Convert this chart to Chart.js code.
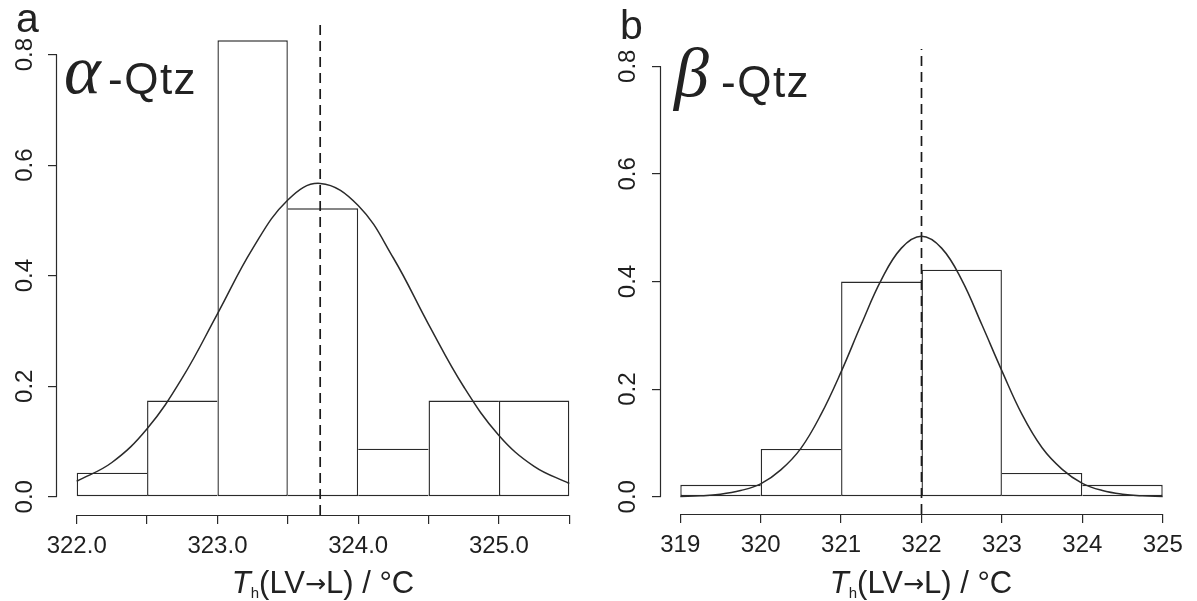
<!DOCTYPE html>
<html>
<head>
<meta charset="utf-8">
<script src="https://cdn.jsdelivr.net/npm/chart.js@4.4.1/dist/chart.umd.min.js"></script>
<style>
body { margin: 0; background: #fff; }
#wrap { position: relative; width: 1197px; height: 601px; overflow: hidden; font-family: "Liberation Sans", Arial, sans-serif; color: #222; }
canvas { position: absolute; top: 0; }
.t { position: absolute; line-height: 1; white-space: nowrap; }
.greek { font-family: "Liberation Serif", "DejaVu Serif", serif; font-style: italic; font-size: 70px; }
.qtz { font-size: 44px; letter-spacing: 1.5px; }
.panel { font-size: 41px; }
.xtitle { font-size: 31px; line-height: 31px; width: 400px; text-align: center; }
.xtitle i { font-style: italic; }
.xtitle .sub { font-size: 15px; position: relative; top: 5px; }
.xtitle .arr { font-family: "DejaVu Sans", sans-serif; font-size: 25px; position: relative; top: -1px; }
</style>
</head>
<body>
<div id="wrap">
  <canvas id="chartA" width="598" height="601" style="left:0"></canvas>
  <canvas id="chartB" width="599" height="601" style="left:598px"></canvas>

  <div class="t panel" style="left:16px; top:-2px">a</div>
  <div class="t panel" style="left:620px; top:5px">b</div>
  <div class="t greek" style="left:64px; top:35px">α</div>
  <div class="t qtz" style="left:108px; top:57px">-Qtz</div>
  <div class="t greek" style="left:674px; top:38px">β</div>
  <div class="t qtz" style="left:721px; top:60px">-Qtz</div>
  <div class="t xtitle" style="left:123px; top:567px"><i>T</i><span class="sub">h</span>(LV<span class="arr">→</span>L) / °C</div>
  <div class="t xtitle" style="left:721px; top:567px"><i>T</i><span class="sub">h</span>(LV<span class="arr">→</span>L) / °C</div>
</div>
<script>
// panel a (alpha-Qtz): histogram densities, bin width 0.5
const binsA = [322.25, 322.75, 323.25, 323.75, 324.25, 324.75, 325.25]
const densA = [0.0435, 0.174, 0.826, 0.522, 0.087, 0.174, 0.174]
const curveXA = [322.0, 322.25, 322.5, 322.75, 323.0, 323.25, 323.5, 323.73, 324.0, 324.25, 324.5, 324.75, 325.0, 325.25, 325.5]
const curveYA = [0.028, 0.062, 0.123, 0.215, 0.331, 0.449, 0.537, 0.567, 0.527, 0.432, 0.312, 0.199, 0.111, 0.055, 0.024]
const meanA = 323.73
const xTicksA = [322, 322.5, 323, 323.5, 324, 324.5, 325, 325.5]
const xLabelsA = ["322.0", "", "323.0", "", "324.0", "", "325.0", ""]

// panel b (beta-Qtz): histogram densities, bin width 1
const binsB = [319.5, 320.5, 321.5, 322.5, 323.5, 324.5]
const densB = [0.0222, 0.0889, 0.400, 0.422, 0.0444, 0.0222]
const curveXB = [319, 319.25, 319.5, 319.75, 320, 320.25, 320.5, 320.75, 321, 321.25, 321.5, 321.75, 322,
                 322.25, 322.5, 322.75, 323, 323.25, 323.5, 323.75, 324, 324.25, 324.5, 324.75, 325]
const curveYB = [0.0006, 0.0018, 0.0048, 0.0116, 0.024, 0.050, 0.090, 0.153, 0.232, 0.320, 0.403, 0.462, 0.484,
                 0.462, 0.403, 0.320, 0.234, 0.153, 0.091, 0.051, 0.025, 0.0116, 0.0048, 0.0018, 0.0006]
const meanB = 322.0
const xTicksB = [319, 320, 321, 322, 323, 324, 325]
const xLabelsB = ["319", "320", "321", "322", "323", "324", "325"]

const yTicks = [0, 0.2, 0.4, 0.6, 0.8]
const yLabels = ["0.0", "0.2", "0.4", "0.6", "0.8"]

const ink = "#2a2a2a"
const fontFam = '"Liberation Sans", Arial, sans-serif'

// axis lines only between first and last tick, like R
const axisLines = {
    id: "axisLines",
    afterDraw(chart, args, opts) {
        const ctx = chart.ctx
        const x = chart.scales.x, y = chart.scales.y
        const area = chart.chartArea
        ctx.save()
        ctx.strokeStyle = ink
        ctx.lineWidth = 1.2
        ctx.beginPath()
        const yb = Math.round(area.bottom) + 0.5
        ctx.moveTo(x.getPixelForValue(opts.xFrom), yb)
        ctx.lineTo(x.getPixelForValue(opts.xTo), yb)
        const xl = Math.round(area.left) - 0.5
        ctx.moveTo(xl, y.getPixelForValue(opts.yFrom))
        ctx.lineTo(xl, y.getPixelForValue(opts.yTo))
        ctx.stroke()
        ctx.restore()
    }
}

function makeChart(id, p) {
    const n = p.dens.length
    const bw = 1.4
    return new Chart(document.getElementById(id), {
        type: "bar",
        data: {
            datasets: [
                {
                    type: "line",
                    data: p.curveX.map((v, i) => ({ x: v, y: p.curveY[i] })),
                    borderColor: ink,
                    borderWidth: 1.5,
                    pointRadius: 0,
                    tension: 0.4,
                    fill: false,
                    order: 1
                },
                {
                    type: "line",
                    data: [{ x: p.mean, y: p.yMin }, { x: p.mean, y: p.yMax }],
                    borderColor: "#1a1a1a",
                    borderWidth: 1.7,
                    borderDash: [10, 6],
                    pointRadius: 0,
                    fill: false,
                    order: 2
                },
                {
                    type: "bar",
                    data: p.bins.map((v, i) => ({ x: v, y: p.dens[i] })),
                    backgroundColor: "#fff",
                    borderColor: ink,
                    borderSkipped: false,
                    inflateAmount: 0,
                    barPercentage: 1,
                    categoryPercentage: 1,
                    borderWidth: function (c) {
                        const i = c.dataIndex
                        if (i === undefined) return bw
                        const h = p.dens
                        return {
                            top: bw, bottom: bw,
                            left: (i === 0 || h[i] >= h[i - 1]) ? bw : 0,
                            right: (i === n - 1 || h[i] > h[i + 1]) ? bw : 0
                        }
                    },
                    order: 3
                }
            ]
        },
        options: {
            responsive: false,
            animation: false,
            devicePixelRatio: 1,
            events: [],
            layout: { padding: { top: p.top, right: p.right, left: 0, bottom: 0 } },
            plugins: {
                legend: { display: false },
                tooltip: { enabled: false },
                axisLines: { xFrom: p.xTicks[0], xTo: p.xTicks[p.xTicks.length - 1], yFrom: yTicks[0], yTo: yTicks[yTicks.length - 1] }
            },
            scales: {
                x: {
                    type: "linear",
                    offset: false,
                    min: p.xMin,
                    max: p.xMax,
                    afterBuildTicks: s => { s.ticks = p.xTicks.map(v => ({ value: v })) },
                    afterFit: s => { s.height = 601 - p.bottom },
                    border: { display: false },
                    grid: { offset: false, drawOnChartArea: false, drawTicks: true, tickLength: 9, color: ink, lineWidth: 1.2 },
                    ticks: {
                        autoSkip: false, maxRotation: 0, minRotation: 0, padding: 8, color: "#1e1e1e",
                        font: { family: fontFam, size: 24 },
                        callback: (v, i) => p.xLabels[i]
                    }
                },
                y: {
                    min: p.yMin,
                    max: p.yMax,
                    afterBuildTicks: s => { s.ticks = yTicks.map(v => ({ value: v })) },
                    afterFit: s => { s.width = p.left },
                    border: { display: false },
                    grid: { drawOnChartArea: false, drawTicks: true, tickLength: 9, color: ink, lineWidth: 1.2 },
                    ticks: {
                        minRotation: 90, maxRotation: 90, crossAlign: "center", padding: p.yPad, color: "#1e1e1e",
                        font: { family: fontFam, size: 24 },
                        callback: (v, i) => yLabels[i]
                    }
                }
            }
        },
        plugins: [axisLines]
    })
}

makeChart("chartA", {
    bins: binsA, dens: densA, curveX: curveXA, curveY: curveYA, mean: meanA,
    xTicks: xTicksA, xLabels: xLabelsA,
    xMin: 321.86, xMax: 325.64, yMin: -0.033, yMax: 0.859,
    left: 57, right: 9, top: 22, bottom: 515, yPad: 6
})

makeChart("chartB", {
    bins: binsB, dens: densB, curveX: curveXB, curveY: curveYB, mean: meanB,
    xTicks: xTicksB, xLabels: xLabelsB,
    xMin: 318.76, xMax: 325.24, yMin: -0.032, yMax: 0.832,
    left: 63, right: 15, top: 49, bottom: 514, yPad: 7
})
</script>
</body>
</html>
